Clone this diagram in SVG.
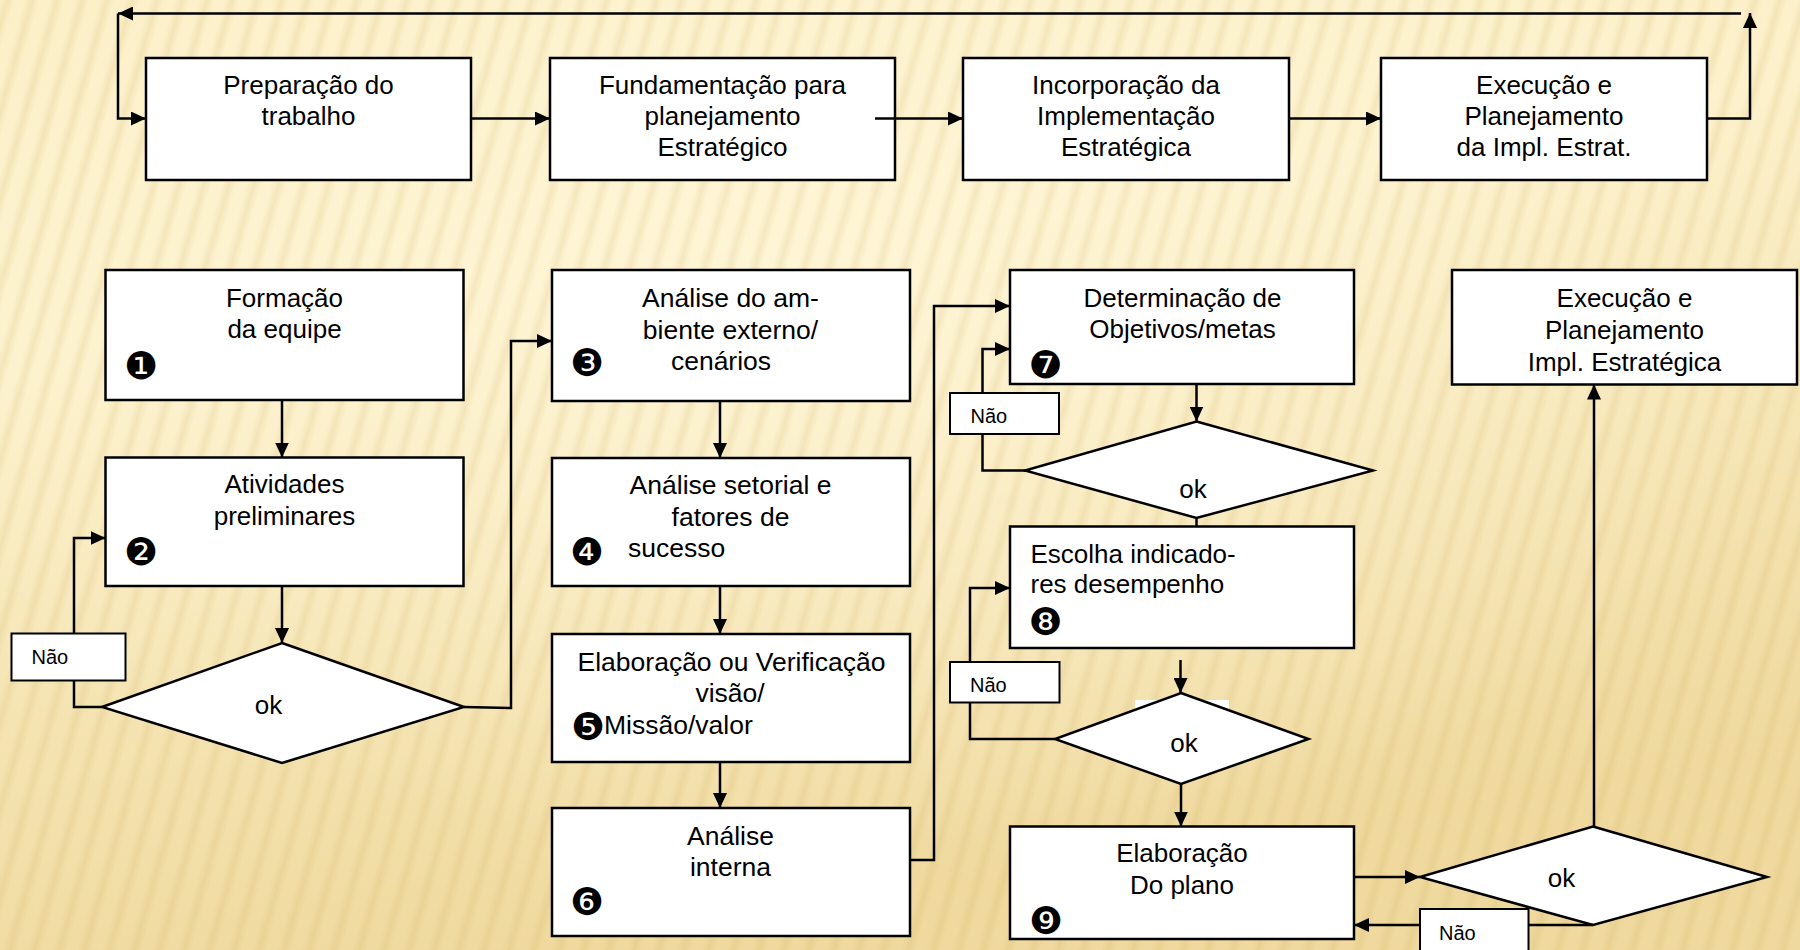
<svg xmlns="http://www.w3.org/2000/svg" width="1800" height="950" viewBox="0 0 1800 950">
<defs>
<linearGradient id="bg" x1="0" y1="0" x2="0.3" y2="1">
<stop offset="0" stop-color="#FBEFC6"/>
<stop offset="0.35" stop-color="#FCF1CB"/>
<stop offset="1" stop-color="#EFD99E"/>
</linearGradient>
<radialGradient id="glow" cx="0.45" cy="0.3" r="0.6">
<stop offset="0" stop-color="#FFF7DA" stop-opacity="0.75"/>
<stop offset="1" stop-color="#FFF7DA" stop-opacity="0"/>
</radialGradient>
<linearGradient id="sg" x1="0" y1="0" x2="1" y2="0">
<stop offset="0" stop-color="#C9A453" stop-opacity="0"/>
<stop offset="0.5" stop-color="#C9A453" stop-opacity="0.16"/>
<stop offset="1" stop-color="#C9A453" stop-opacity="0"/>
</linearGradient>
<pattern id="stripes" width="24" height="24" patternUnits="userSpaceOnUse" patternTransform="rotate(16)">
<rect x="0" y="0" width="14" height="24" fill="url(#sg)"/>
</pattern>
<marker id="ah" markerUnits="userSpaceOnUse" markerWidth="15" markerHeight="14" refX="15" refY="7" orient="auto">
<path d="M0,0 L15,7 L0,14 z" fill="#000"/>
</marker>
<style>
.box{fill:#fff;stroke:#000;stroke-width:2.5}
.lbl{fill:#fff;stroke:#000;stroke-width:2}
.t{font-family:"Liberation Sans",Arial,sans-serif;font-size:26px;fill:#000}
.c{text-anchor:middle}
.t2{font-family:"Liberation Sans",Arial,sans-serif;font-size:26.5px;fill:#000}
.n{font-family:"Liberation Sans",Arial,sans-serif;font-size:20px;fill:#000}
.b{font-family:"DejaVu Sans",sans-serif;font-size:38px;fill:#000;text-anchor:middle}
.ln{fill:none;stroke:#000;stroke-width:2.5}
.ar{fill:none;stroke:#000;stroke-width:2.5;marker-end:url(#ah)}
</style>
</defs>
<rect width="1800" height="950" fill="url(#bg)"/>
<rect width="1800" height="950" fill="url(#glow)"/>
<rect width="1800" height="950" fill="url(#stripes)"/>

<g id="nodes">
<g id="top1"><rect class="box" x="146" y="58" width="325" height="122"/>
<text class="t c" x="308.5" y="94">Preparação do</text><text class="t c" x="308.5" y="125">trabalho</text></g>
<g id="top2"><rect class="box" x="550" y="58" width="345" height="122"/>
<text class="t c" x="722.5" y="94">Fundamentação para</text><text class="t c" x="722.5" y="125">planejamento</text><text class="t c" x="722.5" y="156">Estratégico</text></g>
<g id="top3"><rect class="box" x="963" y="58" width="326" height="122"/>
<text class="t c" x="1126" y="94">Incorporação da</text><text class="t c" x="1126" y="125">Implementação</text><text class="t c" x="1126" y="156">Estratégica</text></g>
<g id="top4"><rect class="box" x="1381" y="58" width="326" height="122"/>
<text class="t c" x="1544" y="94">Execução e</text><text class="t c" x="1544" y="125">Planejamento</text><text class="t c" x="1544" y="156">da Impl. Estrat.</text></g>

<g id="n1"><rect class="box" x="105.5" y="270" width="358" height="130"/>
<text class="t c" x="284.5" y="306.5">Formação</text><text class="t c" x="284.5" y="338">da equipe</text>
<text class="b" x="141" y="379">❶</text></g>
<g id="n2"><rect class="box" x="105.5" y="457.5" width="358" height="128.5"/>
<text class="t c" x="284.5" y="493">Atividades</text><text class="t c" x="284.5" y="525">preliminares</text>
<text class="b" x="141" y="565">❷</text></g>
<g id="d1"><polygon class="box" points="282,643 464,707 282,763 102,707"/>
<text class="t c" x="268.5" y="714">ok</text></g>

<g id="n3"><rect class="box" x="552" y="270" width="358" height="131"/>
<text class="t2 c" x="730.5" y="307">Análise do am-</text><text class="t2 c" x="730.5" y="339">biente externo/</text><text class="t2 c" x="721" y="370">cenários</text>
<text class="b" x="587" y="376">❸</text></g>
<g id="n4"><rect class="box" x="552" y="458" width="358" height="128"/>
<text class="t2 c" x="730.5" y="493.5">Análise setorial e</text><text class="t2 c" x="730.5" y="525.5">fatores de</text><text class="t2" x="628" y="557">sucesso</text>
<text class="b" x="587" y="564.5">❹</text></g>
<g id="n5"><rect class="box" x="552" y="634" width="358" height="128"/>
<text class="t2 c" x="731.5" y="671">Elaboração ou Verificação</text><text class="t2 c" x="730" y="702">visão/</text><text class="t2" x="604" y="733.5">Missão/valor</text>
<text class="b" x="588" y="740">❺</text></g>
<g id="n6"><rect class="box" x="552" y="808" width="358" height="128"/>
<text class="t2 c" x="730.5" y="845">Análise</text><text class="t2 c" x="730.5" y="876">interna</text>
<text class="b" x="587" y="915">❻</text></g>

<g id="n7"><rect class="box" x="1010" y="270" width="344" height="114"/>
<text class="t c" x="1182.5" y="306.5">Determinação de</text><text class="t c" x="1182.5" y="338">Objetivos/metas</text>
<text class="b" x="1045.5" y="378">❼</text></g>
<g id="d2"><polygon class="box" points="1196.5,421.5 1373,470.5 1196.5,518 1025,470.5"/>
<text class="t c" x="1193" y="498">ok</text></g>
<g id="n8"><rect class="box" x="1010" y="526.5" width="344" height="121.5"/>
<text class="t" x="1030.5" y="563">Escolha indicado-</text><text class="t" x="1030.5" y="593">res desempenho</text>
<text class="b" x="1045.5" y="635">❽</text></g>
<g id="d3"><rect x="1135" y="700" width="94" height="22" fill="#fff"/>
<polygon class="box" points="1181,693 1308.5,739 1181,784 1055,739"/>
<text class="t c" x="1184" y="752">ok</text></g>
<g id="n9"><rect class="box" x="1010" y="826.5" width="344" height="112.5"/>
<text class="t c" x="1182" y="862">Elaboração</text><text class="t c" x="1182" y="894">Do plano</text>
<text class="b" x="1046" y="934">❾</text></g>
<g id="d4"><polygon class="box" points="1593,826.5 1767,877 1593,925 1420,877"/>
<text class="t c" x="1561.5" y="886.5">ok</text></g>
<g id="n10"><rect class="box" x="1452" y="270" width="345" height="114.5"/>
<text class="t c" x="1624.5" y="306.5">Execução e</text><text class="t c" x="1624.5" y="338.5">Planejamento</text><text class="t c" x="1624.5" y="370.5">Impl. Estratégica</text></g>
</g>

<g id="connectors">
<path class="ar" d="M1741,13.5 H118"/>
<path class="ar" d="M118,13.5 V118.5 H146"/>
<path class="ar" d="M471,118.5 H550"/>
<path class="ar" d="M875,118.5 H963"/>
<path class="ar" d="M1289,118.5 H1381"/>
<path class="ar" d="M1707,118.5 H1750 V13"/>
<path class="ar" d="M282,400 V457.5"/>
<path class="ar" d="M282,586 V643"/>
<path class="ar" d="M102,707 H74 V538 H105.5"/>
<path class="ar" d="M464,707 L511,708 V341 H552"/>
<path class="ar" d="M720,401 V458"/>
<path class="ar" d="M720,586 V634"/>
<path class="ar" d="M720,762 V808"/>
<path class="ar" d="M910,860 H934 V306 H1010"/>
<path class="ar" d="M1196.5,384 V421.5"/>
<path class="ar" d="M1025,470.5 H982.5 V349 H1010"/>
<path class="ln" d="M1196.5,518 V526.5"/>
<path class="ar" d="M1180.5,660 V693"/>
<path class="ar" d="M1055,739 H970 V588 H1010"/>
<path class="ar" d="M1181,784 V826.5"/>
<path class="ar" d="M1354,877 H1420"/>
<path class="ar" d="M1594,826.5 V384.5"/>
<path class="ar" d="M1593,925 H1354"/>
</g>

<g id="no1"><rect class="lbl" x="11.5" y="633.5" width="114" height="47"/><text class="n" x="31.5" y="664">Não</text></g>
<g id="no2"><rect class="lbl" x="950" y="393" width="109" height="41"/><text class="n" x="970.5" y="423">Não</text></g>
<g id="no3"><rect class="lbl" x="950" y="662" width="109.5" height="40.5"/><text class="n" x="970" y="692">Não</text></g>
<g id="no4"><rect class="lbl" x="1420" y="909" width="108.5" height="50"/><text class="n" x="1439" y="940">Não</text></g>
</svg>
